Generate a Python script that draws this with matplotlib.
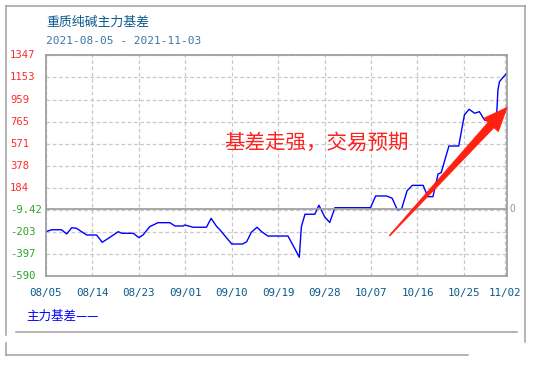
import numpy as np
import matplotlib.pyplot as plt
from matplotlib.lines import Line2D
from matplotlib.patches import Polygon
import matplotlib.transforms as mtransforms

plt.rcParams['font.family'] = ['Noto Sans CJK SC', 'DejaVu Sans']

# days counted from 2021-08-05, basis values
days = [0, 1.1, 3.0, 4.0, 5.0, 5.9, 7.2, 7.9, 9.8, 10.9, 12.4, 14.0, 14.7, 16.9,
        18.0, 18.8, 20.1, 21.7, 24.0, 25.0, 26.6, 26.9, 28.5, 31.1, 32.0, 33.1,
        33.7, 36.0, 38.1, 38.9, 39.8, 40.9, 41.8, 43.0, 46.9, 48.2, 49.1, 49.5,
        50.2, 52.1, 52.9, 54.0, 55.0, 56.0, 62.9, 63.9, 66.0, 67.1, 68.1, 68.9,
        70.0, 71.0, 73.1, 74.0, 75.0, 76.0, 76.6, 78.1, 80.0, 81.1, 82.0, 83.1,
        84.0, 85.0, 85.6, 87.3, 87.6, 87.9, 88.6, 89.3]
basis = [-199, -182, -182, -219, -164, -169, -208, -228, -228, -292, -248, -199,
         -213, -213, -251, -228, -155, -120, -120, -149, -149, -140, -160, -160,
         -82, -155, -182, -307, -307, -287, -204, -160, -199, -237, -237, -345,
         -424, -155, -46, -46, 33, -68, -118, 11, 11, 114, 114, 94, -7, -3, 160,
         207, 207, 108, 108, 307, 318, 552, 552, 824, 874, 839, 853, 780, 774,
         774, 1043, 1116, 1154, 1189]

x_ticks = [0, 9, 18, 27, 36, 45, 54, 63, 72, 81, 89]
x_labels = ['08/05', '08/14', '08/23', '09/01', '09/10', '09/19', '09/28',
            '10/07', '10/16', '10/25', '11/02']
y_ticks = [1347, 1153, 959, 765, 571, 378, 184, -9.42, -203, -397, -590]
y_labels = ['1347', '1153', '959', '765', '571', '378', '184', '-9.42',
            '-203', '-397', '-590']

# arrow drawn over the chart: from / to in data units
arrow_from = (66.6, -234)
arrow_to = (89.4, 891)

W, H = 539, 366
fig = plt.figure(figsize=(W / 100, H / 100), dpi=100)
ax = fig.add_axes([46 / W, 1 - 276.3 / H, (506.7 - 46) / W, (276.3 - 55.3) / H])

ax.plot(days, basis, color='#0000ff', lw=1.0)
ax.axhline(0, color='#9a9a9a', lw=1.2)

ax.set_xlim(0, 89.3)
ax.set_ylim(-590, 1347)
ax.set_xticks(x_ticks)
ax.set_yticks(y_ticks)
ax.set_xticklabels([])
ax.set_yticklabels([])
ax.tick_params(length=0)
ax.grid(True, color='#c8c8c8', ls=(0, (3, 2)), lw=0.9)
for s in ax.spines.values():
    s.set_color('#9a9a9a')
    s.set_linewidth(1.2)

# tick labels drawn by hand so they sit where the reference has them
ty = mtransforms.blended_transform_factory(fig.transFigure, ax.transData)
for v, lab in zip(y_ticks, y_labels):
    ax.text(10 / W, v, lab, transform=ty, ha='left', va='center',
            family='DejaVu Sans Mono', fontsize=7.6,
            color='#ff2a2a' if v > 0 else '#2aa52a')
tx = mtransforms.blended_transform_factory(ax.transData, fig.transFigure)
for d, lab in zip(x_ticks, x_labels):
    ax.text(d, 1 - 293 / H, lab, transform=tx, ha='center', va='center',
            family='DejaVu Sans Mono', fontsize=7.8, color='#0a5a8a')

ax.text(1.005, 0, '0', transform=mtransforms.blended_transform_factory(ax.transAxes, ax.transData),
        ha='left', va='center', fontsize=7.5, color='#999999')

fig.text(46 / W, 1 - 22 / H, '重质纯碱主力基差', fontsize=9.3, color='#0a5a8f',
         ha='left', va='center')
fig.text(46 / W, 1 - 41 / H, '2021-08-05 - 2021-11-03', family='DejaVu Sans Mono',
         fontsize=8, color='#3a78ad', ha='left', va='center')
fig.text(26 / W, 1 - 316.7 / H, '主力基差——', fontsize=9, color='#0000ff',
         ha='left', va='center')

ax.text(224 / W, 1 - 143 / H, '基差走强，交易预期', transform=fig.transFigure,
        fontsize=14.8, color='#ff2020', ha='left', va='center')

# tapered red arrow, built in pixel space from the data end points
p0 = ax.transData.transform(arrow_from)
p1 = ax.transData.transform(arrow_to)
u = (p1 - p0) / np.hypot(*(p1 - p0))
n = np.array([-u[1], u[0]])
head_len, head_w, tail_w = 24, 10, 4
base = p1 - u * head_len
pts = [p0 + n * 0.4, base + n * tail_w, base + n * head_w, p1,
       base - n * head_w, base - n * tail_w, p0 - n * 0.4]
fig.add_artist(Polygon(pts, closed=True, transform=mtransforms.IdentityTransform(),
                       facecolor='#ff2010', edgecolor='#ff2010', lw=0.5, zorder=5))

# outer panel borders
px = lambda x: x / W
py = lambda y: 1 - y / H
for xs, ys in [([6, 525.3], [6.3, 6.3]),
               ([6.3, 6.3], [6.3, 335]),
               ([6.3, 6.3], [343, 355]),
               ([525.3, 525.3], [6.3, 341.7]),
               ([16, 516.7], [332, 332]),
               ([6, 467.7], [355, 355])]:
    fig.add_artist(Line2D([px(x) for x in xs], [py(y) for y in ys],
                          color='#a0a0a0', lw=1.1))

plt.savefig('out.png', dpi=100)
